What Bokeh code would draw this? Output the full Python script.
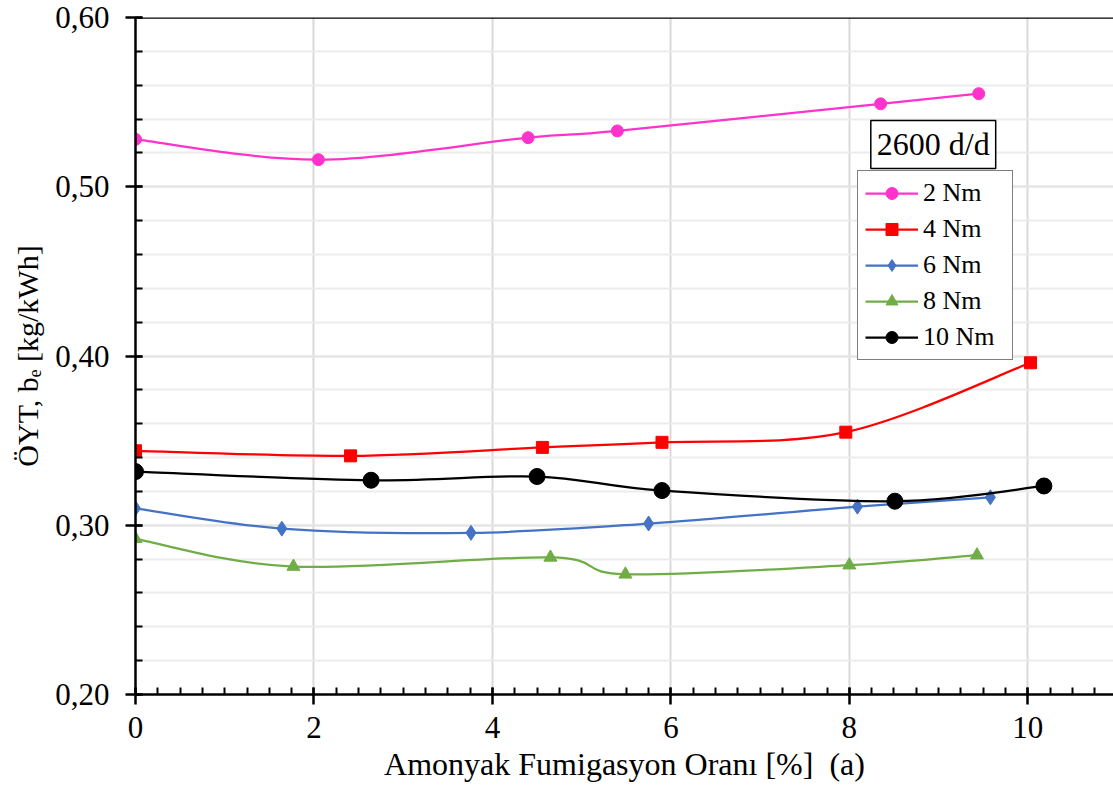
import numpy as np
from bokeh.plotting import figure
from bokeh.models import (Range1d, FixedTicker, Label, Legend, LegendItem, Span)
from bokeh.embed import file_html
from bokeh.resources import INLINE

# Ammonia fumigation ratio [%] and brake specific fuel consumption [kg/kWh] at 2600 rpm
x_2nm = [0.0, 2.05, 4.40, 5.40, 8.35, 9.45]
y_2nm = [0.528, 0.516, 0.529, 0.533, 0.549, 0.555]

x_4nm = [0.0, 2.41, 4.56, 5.90, 7.96, 10.03]
y_4nm = [0.344, 0.341, 0.346, 0.349, 0.355, 0.396]

x_6nm = [0.0, 1.64, 3.76, 5.75, 8.09, 9.58]
y_6nm = [0.310, 0.298, 0.2955, 0.301, 0.311, 0.3165]

x_8nm = [0.0, 1.77, 4.65, 5.49, 8.00, 9.43]
y_8nm = [0.292, 0.2756, 0.281, 0.271, 0.2764, 0.2823]

x_10nm = [0.0, 2.64, 4.50, 5.90, 8.51, 10.18]
y_10nm = [0.3317, 0.3266, 0.3288, 0.3205, 0.3142, 0.3232]

series_labels = ["2 Nm", "4 Nm", "6 Nm", "8 Nm", "10 Nm"]

x_ticks = [0, 2, 4, 6, 8, 10]
y_ticks = [0.2, 0.3, 0.4, 0.5, 0.6]
y_tick_labels = ["0,20", "0,30", "0,40", "0,50", "0,60"]

speed_label = "2600 d/d"
x_title = "Amonyak Fumigasyon Oranı [%]\u00a0 (a)"
y_title = "ÖYT, b\u2091 [kg/kWh]"

FONT = "Liberation Serif, DejaVu Serif"

p = figure(width=1113, height=803,
           x_range=Range1d(0, 10.96), y_range=Range1d(0.2, 0.6),
           output_backend="svg", toolbar_location=None,
           min_border_left=135, min_border_right=0,
           min_border_top=17, min_border_bottom=109)
p.outline_line_color = None
p.background_fill_color = "white"

# ticks
x_minor = np.round(np.arange(0, 11.01, 0.25), 2).tolist()
y_minor = np.round(np.arange(0.2, 0.6001, 0.02), 2).tolist()
p.xaxis.ticker = FixedTicker(ticks=x_ticks, minor_ticks=x_minor)
p.yaxis.ticker = FixedTicker(ticks=y_ticks, minor_ticks=y_minor)
p.xgrid.ticker = FixedTicker(ticks=x_ticks)
p.ygrid.ticker = FixedTicker(ticks=y_ticks, minor_ticks=y_minor)
p.yaxis.major_label_overrides = dict(zip(y_ticks, y_tick_labels))

for ax in (p.xaxis[0], p.yaxis[0]):
    ax.axis_line_color = "black"
    ax.axis_line_width = 2.5
    ax.major_tick_line_color = "black"
    ax.major_tick_line_width = 2.5
    ax.minor_tick_line_color = "black"
    ax.minor_tick_line_width = 2
    ax.major_tick_in = 7
    ax.major_tick_out = 10
    ax.minor_tick_in = 7
    ax.minor_tick_out = 0
    ax.major_label_text_font = FONT
    ax.major_label_text_font_size = "31px"
    ax.major_label_text_color = "black"
    ax.axis_label_text_font = FONT
    ax.axis_label_text_font_style = "normal"
    ax.axis_label_text_color = "black"

p.xaxis.major_label_standoff = 12
p.yaxis.major_label_standoff = 16
p.xaxis.axis_label = x_title
p.xaxis.axis_label_text_font_size = "32px"
p.xaxis.axis_label_standoff = 5
p.yaxis.axis_label = y_title
p.yaxis.axis_label_text_font_size = "30px"
p.yaxis.axis_label_standoff = 8

p.xgrid.grid_line_color = "#d9d9d9"
p.xgrid.grid_line_width = 2
p.ygrid.grid_line_color = "#e4e4e4"
p.ygrid.grid_line_width = 2
p.ygrid.minor_grid_line_color = "#ececec"
p.ygrid.minor_grid_line_width = 2

# top frame line
p.add_layout(Span(location=0.6, dimension="width", line_color="black", line_width=2.5))


def smooth_controls(xs, ys):
    """Cubic Bezier control points for a Catmull-Rom style smoothed line."""
    xs = np.asarray(xs, float)
    ys = np.asarray(ys, float)
    n = len(xs)
    px = np.concatenate([[xs[0]], xs, [xs[-1]]])
    py = np.concatenate([[ys[0]], ys, [ys[-1]]])
    x0, y0 = xs[:-1], ys[:-1]
    x1, y1 = xs[1:], ys[1:]
    cx0 = x0 + (px[2:n + 1] - px[0:n - 1]) / 6.0
    cy0 = y0 + (py[2:n + 1] - py[0:n - 1]) / 6.0
    cx1 = x1 - (px[3:n + 2] - px[1:n]) / 6.0
    cy1 = y1 - (py[3:n + 2] - py[1:n]) / 6.0
    return dict(x0=x0, y0=y0, x1=x1, y1=y1, cx0=cx0, cy0=cy0, cx1=cx1, cy1=cy1)


series = [
    (x_2nm, y_2nm, "#FF33CC", "circle", 12, 2.25),
    (x_4nm, y_4nm, "#FF0000", "square", 12, 2.25),
    (x_6nm, y_6nm, "#4472C4", "diamond", 15, 2.25),
    (x_8nm, y_8nm, "#70AD47", "triangle", 13, 2.25),
    (x_10nm, y_10nm, "#000000", "circle", 16, 2.25),
]

items = []
for (xs, ys, color, marker, size, lw), name in zip(series, series_labels):
    c = smooth_controls(xs, ys)
    curve = p.bezier(x0=c["x0"], y0=c["y0"], x1=c["x1"], y1=c["y1"],
                     cx0=c["cx0"], cy0=c["cy0"], cx1=c["cx1"], cy1=c["cy1"],
                     line_color=color, line_width=lw)
    pts = p.scatter(xs, ys, marker=marker, size=size,
                    fill_color=color, line_color=color)
    items.append(LegendItem(label=name, renderers=[curve, pts]))

legend = Legend(items=items, location=(722, 334),
                border_line_color="black", border_line_width=1.5,
                background_fill_color="white", background_fill_alpha=1.0,
                label_text_font=FONT, label_text_font_size="26px",
                label_text_color="black",
                glyph_width=53, glyph_height=30, label_height=30, label_width=82,
                spacing=6, padding=7, margin=0, label_standoff=5)
p.add_layout(legend)

# speed box above the legend
p.add_layout(Label(x=8.94, y=0.525, text=speed_label,
                   text_align="center", text_baseline="middle",
                   text_font=FONT, text_font_size="32px", text_color="black",
                   border_line_color="black", border_line_width=1.5,
                   background_fill_color="white", padding=6))

open("out.html", "w").write(file_html(p, INLINE))
